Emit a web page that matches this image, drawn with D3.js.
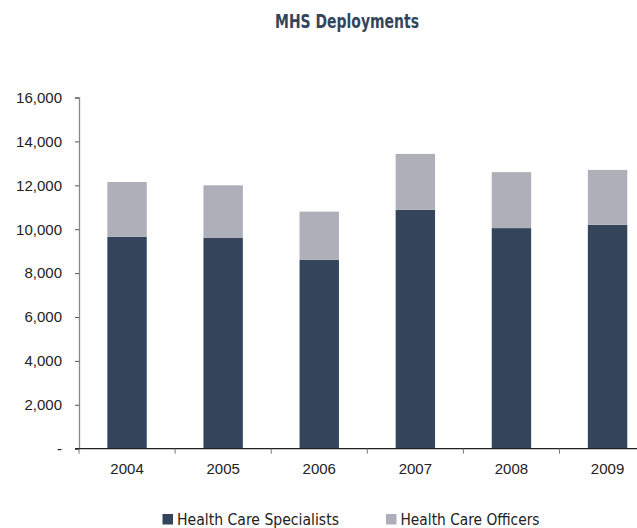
<!DOCTYPE html>
<html><head><meta charset="utf-8">
<script src="https://cdn.jsdelivr.net/npm/d3@7"></script>
<style>body{margin:0;background:#fff}svg{display:block}</style>
</head><body><svg id="c" width="637" height="528"></svg>
<script>
const years = ["2004","2005","2006","2007","2008","2009"];
const specialists = [9650, 9600, 8600, 10880, 10050, 10200];
const officers = [2500, 2400, 2200, 2550, 2550, 2500];
const yTicks = [0,2000,4000,6000,8000,10000,12000,14000,16000];
const seriesNames = ["Health Care Specialists","Health Care Officers"];
const colors = ["#34455b","#aeb0b9"];

const svg = d3.select("#c");
const left = 79, step = 96.1, y0 = 448.7, yTop = 97.5;
const x = d3.scaleBand().domain(years).range([left, left + step*years.length]).paddingInner(0.59).paddingOuter(0.295);
const xb = d3.scaleBand().domain(years).range([left, left + step*years.length]).padding(0);
const y = d3.scaleLinear().domain([0,16000]).range([y0, yTop]);

const rows = years.map((d,i)=>({year:d, s:specialists[i], o:officers[i]}));
const stack = d3.stack().keys(["s","o"])(rows);

const condensed = "'DejaVu Sans Condensed','Liberation Sans Narrow',sans-serif";

svg.append("text").attr("x",275).attr("y",28)
  .attr("textLength",144).attr("lengthAdjust","spacingAndGlyphs")
  .style("font-family",condensed)
  .style("font-weight","bold").style("font-size","19px").attr("fill","#34455b").text("MHS Deployments");

stack.forEach((layer,k)=>{
  svg.append("g").selectAll("rect").data(layer).join("rect")
    .attr("x",d=>x(d.data.year)).attr("width",x.bandwidth())
    .attr("y",d=>y(d[1])).attr("height",d=>y(d[0])-y(d[1]))
    .attr("fill",colors[k]);
});

// y axis
const ya = svg.append("g").attr("transform",`translate(${left},0)`)
  .call(d3.axisLeft(y).tickValues(yTicks).tickSize(4).tickPadding(13)
    .tickFormat(d=> d===0 ? "-" : d3.format(",")(d)));
ya.select(".domain").attr("stroke","#888").attr("stroke-width",1.3);
ya.selectAll(".tick line").attr("stroke","#555");
ya.selectAll("text").style("font-family","'Liberation Sans',Arial,sans-serif").style("font-size","15px").attr("fill","#222");

// x axis
const xa = svg.append("g").attr("transform",`translate(0,${y0})`);
xa.append("line").attr("x1",left-4).attr("x2",637).attr("y1",0).attr("y2",0).attr("stroke","#222").attr("stroke-width",1.2);
xa.selectAll("line.tk").data(years).join("line").attr("class","tk")
  .attr("x1",d=>xb(d)).attr("x2",d=>xb(d)).attr("y1",0).attr("y2",5).attr("stroke","#777");
xa.selectAll("text").data(years).join("text")
  .attr("x",d=>x(d)+x.bandwidth()/2).attr("y",25.3).attr("text-anchor","middle")
  .style("font-family","'Liberation Sans',Arial,sans-serif").style("font-size","15px").attr("fill","#222").text(d=>d);

// legend
const legX = [162.5, 386];
const legW = [162, 139];
seriesNames.forEach((n,i)=>{
  const g = svg.append("g");
  g.append("rect").attr("x",legX[i]).attr("y",514).attr("width",10.5).attr("height",10.5).attr("fill",colors[i]);
  g.append("text").attr("x",legX[i]+14.5).attr("y",525)
    .attr("textLength",legW[i]).attr("lengthAdjust","spacingAndGlyphs")
    .style("font-family",condensed)
    .style("font-size","15.5px").attr("fill","#222").text(n);
});
</script></body></html>
